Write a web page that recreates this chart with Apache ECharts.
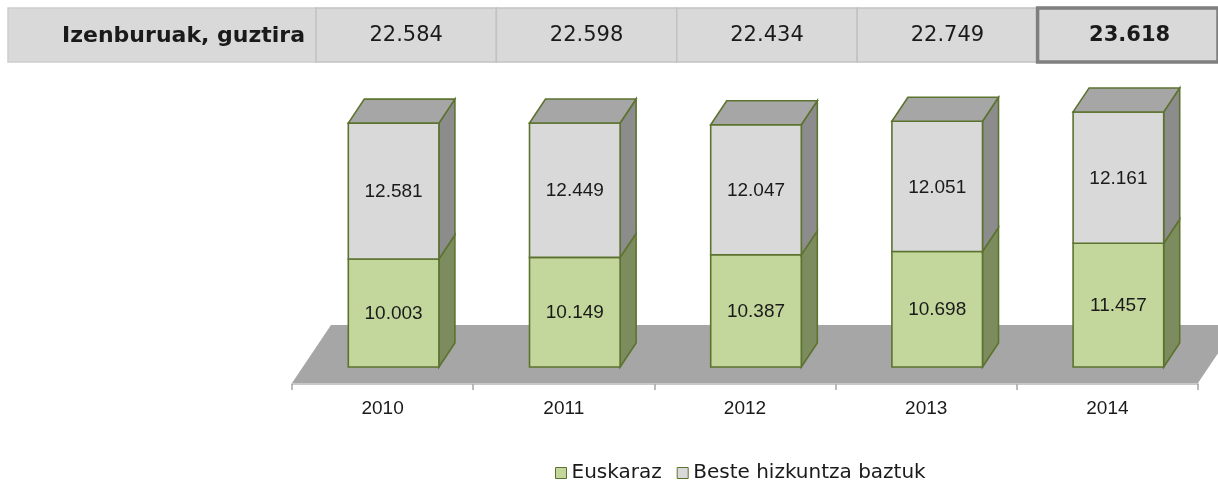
<!DOCTYPE html>
<html>
<head>
<meta charset="utf-8">
<script src="https://cdn.jsdelivr.net/npm/echarts@6/dist/echarts.min.js"></script>
<style>
  html, body { margin: 0; padding: 0; background: #fff; }
  #main { width: 1218px; height: 481px; }
</style>
</head>
<body>
<div id="main"></div>
<script>
// datuak
var years = ['2010', '2011', '2012', '2013', '2014'];
var euskaraz = [10003, 10149, 10387, 10698, 11457];
var beste = [12581, 12449, 12047, 12051, 12161];
var totals = [22584, 22598, 22434, 22749, 23618];
var seriesNames = ['Euskaraz', 'Beste hizkuntza baztuk'];
var totalLabel = 'Izenburuak, guztira';

function fmt(v) {
	return String(v).replace(/\B(?=(\d{3})+(?!\d))/g, '.');
}

var DX = 16, DY = -24, SHIFT = 11;
var EDGE = '#5c7330';

var faceColors = {
	green: { front: '#c3d69b', side: '#7d8c5e', top: '#9bb06a' },
	gray: { front: '#d9d9d9', side: '#8c8c8c', top: '#a6a6a6' }
};

function makeBarRender(colors, withTop) {
	return function (params, api) {
		var idx = api.value(0);
		var base = api.value(1);
		var top = api.value(2);
		var pb = api.coord([idx, base]);
		var pt = api.coord([idx, top]);
		var w = api.size([1, 0])[0] * 0.5;
		var x1 = pb[0] - w / 2 + SHIFT;
		var x2 = x1 + w;
		var yb = pb[1], yt = pt[1];
		var children = [
			{
				type: 'polygon',
				shape: { points: [[x2, yb], [x2, yt], [x2 + DX, yt + DY], [x2 + DX, yb + DY]] },
				style: { fill: colors.side, stroke: EDGE, lineWidth: 1.6 }
			},
			{
				type: 'rect',
				shape: { x: x1, y: yt, width: w, height: yb - yt },
				style: { fill: colors.front, stroke: EDGE, lineWidth: 1.6 }
			}
		];
		if (withTop) {
			children.push({
				type: 'polygon',
				shape: { points: [[x1, yt], [x2, yt], [x2 + DX, yt + DY], [x1 + DX, yt + DY]] },
				style: { fill: colors.top, stroke: EDGE, lineWidth: 1.6 }
			});
		}
		children.push({
			type: 'text',
			style: {
				x: (x1 + x2) / 2,
				y: (yt + yb) / 2 + 1,
				text: fmt(top - base),
				align: 'center',
				verticalAlign: 'middle',
				fontFamily: 'Liberation Sans',
				fontSize: 19,
				fill: '#1a1a1a'
			}
		});
		return { type: 'group', children: children };
	};
}

function renderFloor(params, api) {
	var cs = params.coordSys;
	var y0 = api.coord([0, 0])[1];
	var yf = y0 + 16, yk = y0 - 42;
	var xl = cs.x, xr = cs.x + cs.width, sh = 39;
	return {
		type: 'group',
		children: [
			{
				type: 'polygon',
				shape: { points: [[xl, yf], [xr, yf], [xr, yf + 2], [xl, yf + 2]] },
				style: { fill: '#c8c8c8' }
			},
			{
				type: 'polygon',
				shape: { points: [[xl, yf], [xl + sh, yk], [xr + sh, yk], [xr, yf]] },
				style: { fill: '#a6a6a6' }
			}
		]
	};
}

function renderCell(params, api) {
	var i = api.value(0);
	var c = api.coord([i, 0]);
	var w = api.size([1, 0])[0];
	var cs = params.coordSys;
	var last = i === totals.length - 1;
	var x = c[0] - w / 2;
	return {
		type: 'group',
		children: [
			{
				type: 'rect',
				shape: { x: x, y: cs.y, width: w, height: cs.height },
				style: last
					? { fill: '#d9d9d9', stroke: '#7f7f7f', lineWidth: 3.5 }
					: { fill: '#d9d9d9', stroke: '#c2c2c2', lineWidth: 1.5 },
				z2: last ? 2 : 1
			},
			{
				type: 'text',
				z2: 3,
				style: {
					x: last ? x + 92 : x + w / 2,
					y: cs.y + cs.height / 2 + 1,
					text: fmt(api.value(1)),
					align: 'center',
					verticalAlign: 'middle',
					fontFamily: 'DejaVu Sans',
					fontWeight: last ? 'bold' : 'normal',
					fontSize: 21,
					fill: '#1a1a1a'
				}
			}
		]
	};
}

var myChart = echarts.init(document.getElementById('main'));

var option = {
	animation: false,
	backgroundColor: '#fff',
	grid: [
		{ left: 292, right: 20, top: 43, bottom: 114 },
		{ left: 316, width: 910, top: 8, height: 54 }
	],
	xAxis: [
		{
			type: 'category',
			data: years,
			gridIndex: 0,
			offset: 17,
			z: 3,
			axisLine: { show: true, onZero: false, lineStyle: { color: '#c8c8c8', width: 2 } },
			axisTick: { show: true, length: 6, lineStyle: { color: '#a6a6a6', width: 1.5 } },
			axisLabel: {
				margin: 15,
				fontFamily: 'Liberation Sans',
				fontSize: 19,
				color: '#1a1a1a'
			}
		},
		{
			type: 'category',
			data: years,
			gridIndex: 1,
			show: false
		}
	],
	yAxis: [
		{ type: 'value', gridIndex: 0, min: 0, max: 30000, show: false },
		{ type: 'value', gridIndex: 1, min: 0, max: 1, show: false }
	],
	legend: {
		left: 550,
		top: 458,
		itemWidth: 11,
		itemHeight: 11,
		itemGap: 15,
		icon: 'rect',
		textStyle: { fontFamily: 'DejaVu Sans', fontSize: 20, color: '#1a1a1a' },
		data: [
			{ name: seriesNames[0], itemStyle: { color: '#c3d69b', borderColor: EDGE, borderWidth: 1 } },
			{ name: seriesNames[1], itemStyle: { color: '#d9d9d9', borderColor: EDGE, borderWidth: 1 } }
		]
	},
	graphic: [
		{
			type: 'rect',
			shape: { x: 8, y: 8, width: 308, height: 54 },
			style: { fill: '#d9d9d9', stroke: '#cdcdcd', lineWidth: 1.5 }
		},
		{
			type: 'text',
			style: {
				x: 305,
				y: 36,
				text: totalLabel,
				align: 'right',
				verticalAlign: 'middle',
				fontFamily: 'DejaVu Sans',
				fontWeight: 'bold',
				fontSize: 22,
				fill: '#1a1a1a'
			}
		}
	],
	series: [
		{
			type: 'custom',
			name: 'floor',
			xAxisIndex: 0,
			yAxisIndex: 0,
			z: 1,
			renderItem: renderFloor,
			data: [[0, 0]],
			encode: { x: 0, y: 1 },
			silent: true
		},
		{
			type: 'custom',
			name: seriesNames[0],
			xAxisIndex: 0,
			yAxisIndex: 0,
			z: 4,
			itemStyle: { color: '#c3d69b' },
			renderItem: makeBarRender(faceColors.green, false),
			data: euskaraz.map(function (v, i) { return [i, 0, v]; }),
			encode: { x: 0, y: [1, 2] }
		},
		{
			type: 'custom',
			name: seriesNames[1],
			xAxisIndex: 0,
			yAxisIndex: 0,
			z: 5,
			itemStyle: { color: '#d9d9d9' },
			renderItem: makeBarRender(faceColors.gray, true),
			data: beste.map(function (v, i) { return [i, euskaraz[i], euskaraz[i] + v]; }),
			encode: { x: 0, y: [1, 2] }
		},
		{
			type: 'custom',
			name: 'totals',
			xAxisIndex: 1,
			yAxisIndex: 1,
			renderItem: renderCell,
			data: totals.map(function (v, i) { return [i, v]; }),
			encode: { x: 0, y: 1 },
			silent: true
		}
	]
};

myChart.setOption(option);
</script>
</body>
</html>
